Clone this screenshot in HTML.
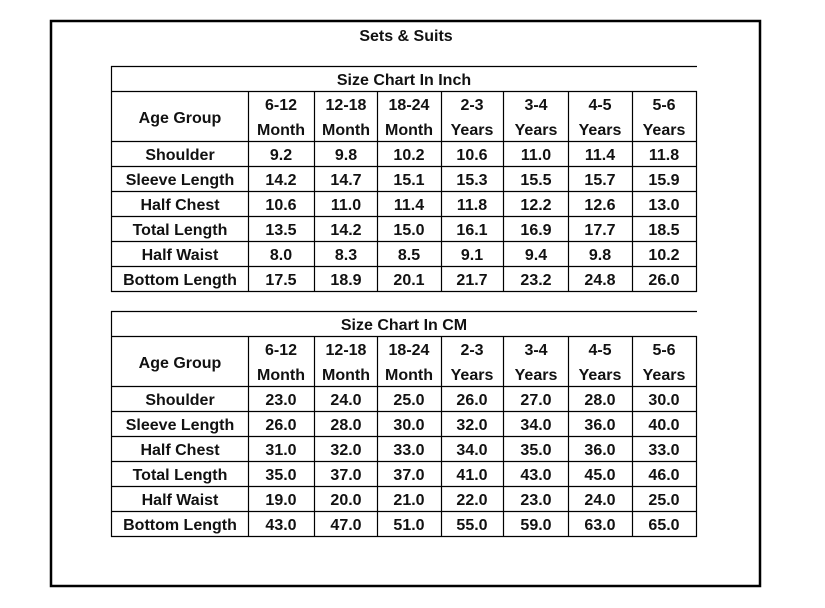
<!DOCTYPE html>
<html><head><meta charset="utf-8"><style>
html,body{margin:0;padding:0;background:#fff;}
svg{display:block;}
text{font-family:"Liberation Sans",sans-serif;font-weight:bold;font-size:16px;fill:#111;text-anchor:middle;}
</style></head><body>
<svg width="825" height="608" viewBox="0 0 825 608">
<rect x="51" y="21" width="709" height="565" fill="none" stroke="#000" stroke-width="2.5"/>
<text x="406" y="41">Sets &amp; Suits</text>
<g id="t1" stroke="#000" stroke-width="1.2" fill="none">
<line x1="111" y1="66.5" x2="697" y2="66.5"/>
<line x1="111" y1="91.5" x2="697" y2="91.5"/>
<line x1="111" y1="141.5" x2="697" y2="141.5"/>
<line x1="248" y1="166.5" x2="697" y2="166.5"/><line x1="111" y1="166.5" x2="248" y2="166.5"/>
<line x1="111" y1="191.5" x2="697" y2="191.5"/>
<line x1="111" y1="216.5" x2="697" y2="216.5"/>
<line x1="111" y1="241.5" x2="697" y2="241.5"/>
<line x1="111" y1="266.5" x2="697" y2="266.5"/>
<line x1="111" y1="291.5" x2="697" y2="291.5"/>
<line x1="111.5" y1="66" x2="111.5" y2="292"/>
<line x1="696.5" y1="91" x2="696.5" y2="292"/>
<line x1="248.5" y1="91" x2="248.5" y2="292"/>
<line x1="314.5" y1="91" x2="314.5" y2="292"/>
<line x1="377.5" y1="91" x2="377.5" y2="292"/>
<line x1="441.5" y1="91" x2="441.5" y2="292"/>
<line x1="503.5" y1="91" x2="503.5" y2="292"/>
<line x1="568.5" y1="91" x2="568.5" y2="292"/>
<line x1="632.5" y1="91" x2="632.5" y2="292"/>
</g>
<g stroke="#000" stroke-width="1.2" fill="none">
<line x1="111" y1="311.5" x2="697" y2="311.5"/>
<line x1="111" y1="336.5" x2="697" y2="336.5"/>
<line x1="111" y1="386.5" x2="697" y2="386.5"/>
<line x1="111" y1="411.5" x2="697" y2="411.5"/>
<line x1="111" y1="436.5" x2="697" y2="436.5"/>
<line x1="111" y1="461.5" x2="697" y2="461.5"/>
<line x1="111" y1="486.5" x2="697" y2="486.5"/>
<line x1="111" y1="511.5" x2="697" y2="511.5"/>
<line x1="111" y1="536.5" x2="697" y2="536.5"/>
<line x1="111.5" y1="311" x2="111.5" y2="537"/>
<line x1="696.5" y1="336" x2="696.5" y2="537"/>
<line x1="248.5" y1="336" x2="248.5" y2="537"/>
<line x1="314.5" y1="336" x2="314.5" y2="537"/>
<line x1="377.5" y1="336" x2="377.5" y2="537"/>
<line x1="441.5" y1="336" x2="441.5" y2="537"/>
<line x1="503.5" y1="336" x2="503.5" y2="537"/>
<line x1="568.5" y1="336" x2="568.5" y2="537"/>
<line x1="632.5" y1="336" x2="632.5" y2="537"/>
</g>
<g>
<text x="404" y="85">Size Chart In Inch</text>
<text x="180" y="123">Age Group</text>
<text x="281" y="110">6-12</text><text x="281" y="135">Month</text>
<text x="346" y="110">12-18</text><text x="346" y="135">Month</text>
<text x="409" y="110">18-24</text><text x="409" y="135">Month</text>
<text x="472" y="110">2-3</text><text x="472" y="135">Years</text>
<text x="536" y="110">3-4</text><text x="536" y="135">Years</text>
<text x="600" y="110">4-5</text><text x="600" y="135">Years</text>
<text x="664" y="110">5-6</text><text x="664" y="135">Years</text>
</g>
<g>
<text x="180" y="160">Shoulder</text><text x="281" y="160">9.2</text><text x="346" y="160">9.8</text><text x="409" y="160">10.2</text><text x="472" y="160">10.6</text><text x="536" y="160">11.0</text><text x="600" y="160">11.4</text><text x="664" y="160">11.8</text>
<text x="180" y="185">Sleeve Length</text><text x="281" y="185">14.2</text><text x="346" y="185">14.7</text><text x="409" y="185">15.1</text><text x="472" y="185">15.3</text><text x="536" y="185">15.5</text><text x="600" y="185">15.7</text><text x="664" y="185">15.9</text>
<text x="180" y="210">Half Chest</text><text x="281" y="210">10.6</text><text x="346" y="210">11.0</text><text x="409" y="210">11.4</text><text x="472" y="210">11.8</text><text x="536" y="210">12.2</text><text x="600" y="210">12.6</text><text x="664" y="210">13.0</text>
<text x="180" y="235">Total Length</text><text x="281" y="235">13.5</text><text x="346" y="235">14.2</text><text x="409" y="235">15.0</text><text x="472" y="235">16.1</text><text x="536" y="235">16.9</text><text x="600" y="235">17.7</text><text x="664" y="235">18.5</text>
<text x="180" y="260">Half Waist</text><text x="281" y="260">8.0</text><text x="346" y="260">8.3</text><text x="409" y="260">8.5</text><text x="472" y="260">9.1</text><text x="536" y="260">9.4</text><text x="600" y="260">9.8</text><text x="664" y="260">10.2</text>
<text x="180" y="285">Bottom Length</text><text x="281" y="285">17.5</text><text x="346" y="285">18.9</text><text x="409" y="285">20.1</text><text x="472" y="285">21.7</text><text x="536" y="285">23.2</text><text x="600" y="285">24.8</text><text x="664" y="285">26.0</text>
</g>
<g>
<text x="404" y="330">Size Chart In CM</text>
<text x="180" y="368">Age Group</text>
<text x="281" y="355">6-12</text><text x="281" y="380">Month</text>
<text x="346" y="355">12-18</text><text x="346" y="380">Month</text>
<text x="409" y="355">18-24</text><text x="409" y="380">Month</text>
<text x="472" y="355">2-3</text><text x="472" y="380">Years</text>
<text x="536" y="355">3-4</text><text x="536" y="380">Years</text>
<text x="600" y="355">4-5</text><text x="600" y="380">Years</text>
<text x="664" y="355">5-6</text><text x="664" y="380">Years</text>
</g>
<g>
<text x="180" y="405">Shoulder</text><text x="281" y="405">23.0</text><text x="346" y="405">24.0</text><text x="409" y="405">25.0</text><text x="472" y="405">26.0</text><text x="536" y="405">27.0</text><text x="600" y="405">28.0</text><text x="664" y="405">30.0</text>
<text x="180" y="430">Sleeve Length</text><text x="281" y="430">26.0</text><text x="346" y="430">28.0</text><text x="409" y="430">30.0</text><text x="472" y="430">32.0</text><text x="536" y="430">34.0</text><text x="600" y="430">36.0</text><text x="664" y="430">40.0</text>
<text x="180" y="455">Half Chest</text><text x="281" y="455">31.0</text><text x="346" y="455">32.0</text><text x="409" y="455">33.0</text><text x="472" y="455">34.0</text><text x="536" y="455">35.0</text><text x="600" y="455">36.0</text><text x="664" y="455">33.0</text>
<text x="180" y="480">Total Length</text><text x="281" y="480">35.0</text><text x="346" y="480">37.0</text><text x="409" y="480">37.0</text><text x="472" y="480">41.0</text><text x="536" y="480">43.0</text><text x="600" y="480">45.0</text><text x="664" y="480">46.0</text>
<text x="180" y="505">Half Waist</text><text x="281" y="505">19.0</text><text x="346" y="505">20.0</text><text x="409" y="505">21.0</text><text x="472" y="505">22.0</text><text x="536" y="505">23.0</text><text x="600" y="505">24.0</text><text x="664" y="505">25.0</text>
<text x="180" y="530">Bottom Length</text><text x="281" y="530">43.0</text><text x="346" y="530">47.0</text><text x="409" y="530">51.0</text><text x="472" y="530">55.0</text><text x="536" y="530">59.0</text><text x="600" y="530">63.0</text><text x="664" y="530">65.0</text>
</g>
</svg>
</body></html>
